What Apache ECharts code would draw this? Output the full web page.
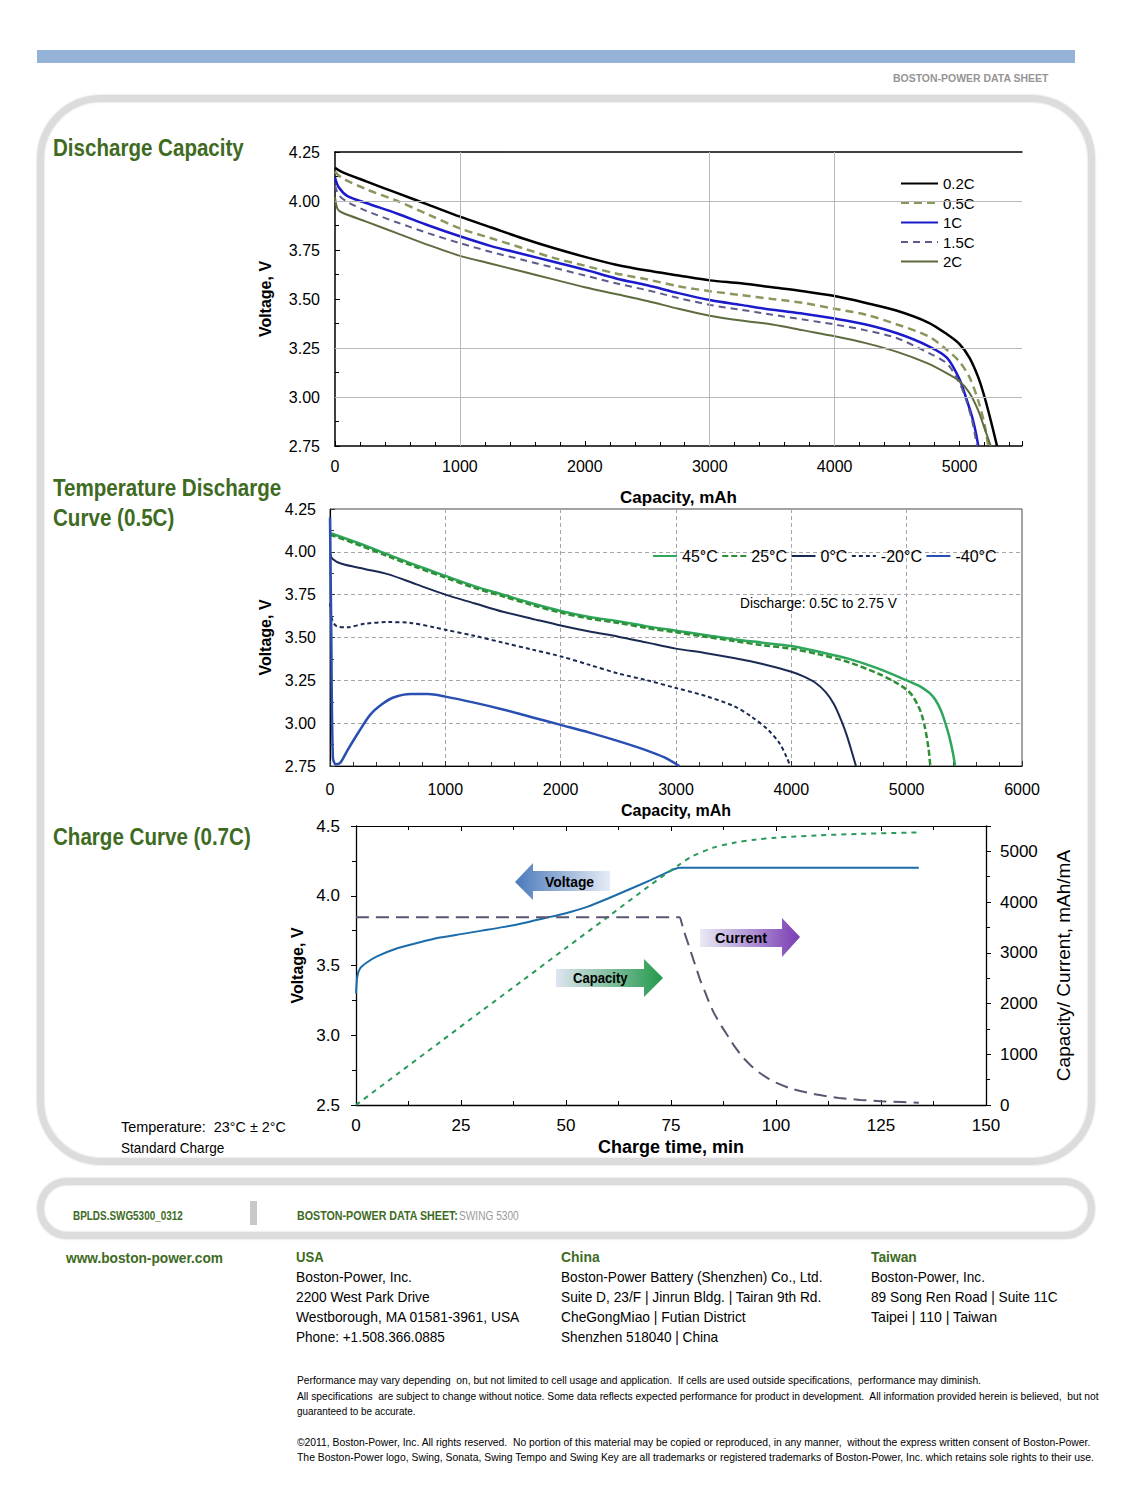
<!DOCTYPE html>
<html><head><meta charset="utf-8">
<script src="https://cdn.jsdelivr.net/npm/echarts@6/dist/echarts.min.js"></script>
<style>
html,body{margin:0;padding:0;background:#fff;overflow:hidden;}
#page{position:relative;width:1125px;height:1500px;overflow:hidden;font-family:'Liberation Sans',Arial,sans-serif;}
#chart{position:absolute;left:0;top:0;width:1125px;height:1500px;z-index:2;}
#txt{position:absolute;left:0;top:0;width:1125px;height:1500px;z-index:3;pointer-events:none;}
.bar{position:absolute;left:37px;top:50px;width:1038px;height:13px;background:#95b3d7;}
.frame{position:absolute;box-sizing:border-box;left:37px;top:95px;width:1058px;height:1070px;border:7px solid #dcdcdc;border-radius:64px;box-shadow:0 0 2px #c8c8c8, inset 0 0 2px #c8c8c8;}
.fbar{position:absolute;box-sizing:border-box;left:37px;top:1178px;width:1058px;height:61px;border:7px solid #dcdcdc;border-radius:30px;box-shadow:0 0 2px #c8c8c8, inset 0 0 2px #c8c8c8;}
.sep{position:absolute;left:250px;top:1201px;width:7px;height:24px;background:#c8c8c8;}
.t{position:absolute;white-space:pre;transform-origin:0 50%;font-family:'Liberation Sans',Arial,sans-serif;}
</style></head>
<body><div id="page">
<div class="bar"></div><div class="frame"></div><div class="fbar"></div><div class="sep"></div>
<div id="chart"></div><div id="txt"></div>
</div>
<script>
// ---------- Chart 1: Discharge capacity (capacity mAh, voltage V) ----------
const c1Names = ['0.2C','0.5C','1C','1.5C','2C'];
const c1_02 = [[0,4.17],[50,4.15],[250,4.10],[500,4.04],[750,3.98],[1000,3.92],[1250,3.865],[1500,3.81],[1750,3.76],[2000,3.715],[2250,3.675],[2500,3.645],[2750,3.62],[3000,3.595],[3250,3.58],[3500,3.56],[3750,3.54],[4000,3.515],[4250,3.48],[4500,3.44],[4750,3.38],[4900,3.32],[5000,3.27],[5080,3.2],[5150,3.1],[5200,3.0],[5250,2.88],[5300,2.75]];
const c1_05 = [[0,4.15],[50,4.12],[250,4.06],[500,4.00],[750,3.93],[1000,3.86],[1250,3.81],[1500,3.76],[1750,3.71],[2000,3.67],[2250,3.63],[2500,3.60],[2750,3.565],[3000,3.54],[3250,3.52],[3500,3.50],[3750,3.48],[4000,3.45],[4250,3.42],[4500,3.37],[4750,3.31],[4900,3.24],[5000,3.18],[5080,3.10],[5150,2.98],[5200,2.86],[5230,2.75]];
const c1_1 = [[0,4.12],[30,4.07],[100,4.025],[250,3.99],[500,3.935],[750,3.875],[1000,3.82],[1250,3.77],[1500,3.73],[1750,3.69],[2000,3.65],[2250,3.605],[2500,3.57],[2750,3.53],[3000,3.495],[3250,3.47],[3500,3.445],[3750,3.425],[4000,3.40],[4250,3.37],[4500,3.325],[4750,3.26],[4900,3.2],[5000,3.09],[5050,3.0],[5100,2.9],[5130,2.82],[5150,2.75]];
const c1_15 = [[0,4.08],[30,4.03],[100,3.995],[250,3.95],[500,3.89],[750,3.835],[1000,3.785],[1250,3.74],[1500,3.70],[1750,3.66],[2000,3.62],[2250,3.58],[2500,3.545],[2750,3.505],[3000,3.47],[3250,3.445],[3500,3.42],[3750,3.395],[4000,3.37],[4250,3.34],[4500,3.30],[4750,3.225],[4900,3.17],[5000,3.07],[5050,2.99],[5100,2.88],[5140,2.75]];
const c1_2 = [[0,4.02],[20,3.96],[60,3.94],[250,3.895],[500,3.835],[750,3.775],[1000,3.72],[1250,3.68],[1500,3.64],[1750,3.60],[2000,3.56],[2250,3.525],[2500,3.49],[2750,3.45],[3000,3.415],[3250,3.39],[3500,3.37],[3750,3.34],[4000,3.31],[4250,3.275],[4500,3.23],[4750,3.17],[4900,3.12],[5000,3.08],[5080,3.02],[5150,2.93],[5200,2.84],[5250,2.75]];
const c1GridY = [4.00, 3.25, 3.00];
const c1GridX = [1000, 3000, 4000];

// ---------- Chart 2: Temperature discharge (0.5C) ----------
const c2Names = ['45°C','25°C','0°C','-20°C','-40°C'];
const t45 = [[0,4.11],[250,4.05],[500,3.985],[750,3.92],[1000,3.86],[1250,3.80],[1500,3.75],[1750,3.70],[2000,3.655],[2250,3.62],[2500,3.595],[2750,3.565],[3000,3.54],[3250,3.515],[3500,3.49],[3750,3.47],[4000,3.45],[4250,3.415],[4500,3.375],[4750,3.32],[5000,3.25],[5100,3.22],[5150,3.2],[5200,3.175],[5250,3.135],[5300,3.07],[5340,2.99],[5370,2.92],[5400,2.83],[5420,2.75]];
const t25 = [[0,4.10],[250,4.04],[500,3.975],[750,3.91],[1000,3.85],[1250,3.79],[1500,3.74],[1750,3.69],[2000,3.645],[2250,3.61],[2500,3.585],[2750,3.555],[3000,3.53],[3250,3.505],[3500,3.48],[3750,3.455],[4000,3.435],[4250,3.40],[4500,3.355],[4750,3.29],[4900,3.24],[5000,3.195],[5050,3.16],[5100,3.1],[5130,3.05],[5160,2.97],[5190,2.85],[5205,2.75]];
const t0 = [[0,3.99],[20,3.96],[100,3.93],[300,3.90],[500,3.87],[750,3.81],[1000,3.75],[1250,3.70],[1500,3.65],[1750,3.61],[2000,3.57],[2250,3.535],[2500,3.505],[2750,3.47],[3000,3.435],[3250,3.41],[3500,3.38],[3750,3.345],[4000,3.30],[4100,3.275],[4200,3.24],[4300,3.18],[4370,3.11],[4430,3.02],[4480,2.93],[4530,2.82],[4560,2.75]];
const tm20 = [[0,3.70],[20,3.60],[60,3.565],[150,3.56],[300,3.58],[500,3.59],[700,3.585],[900,3.56],[1000,3.545],[1250,3.51],[1500,3.47],[1750,3.43],[2000,3.39],[2250,3.34],[2500,3.29],[2750,3.25],[3000,3.205],[3250,3.16],[3500,3.10],[3650,3.04],[3800,2.96],[3900,2.88],[3960,2.80],[3990,2.75]];
const tm40 = [[0,4.2],[10,3.6],[25,2.8],[50,2.76],[90,2.77],[150,2.84],[250,2.95],[350,3.05],[450,3.11],[550,3.15],[700,3.17],[850,3.17],[1000,3.155],[1250,3.12],[1500,3.08],[1750,3.035],[2000,2.99],[2250,2.945],[2500,2.895],[2750,2.84],[2900,2.80],[3030,2.75]];

// ---------- Chart 3: Charge curve (0.7C), time in min ----------
const chVoltage = [[0,3.30],[0.3,3.42],[1,3.48],[2.5,3.52],[5,3.565],[10,3.625],[15,3.665],[20,3.70],[25,3.725],[30,3.75],[35,3.775],[40,3.805],[45,3.84],[50,3.875],[55,3.92],[60,3.98],[65,4.045],[70,4.11],[75,4.18],[77,4.2],[80,4.2],[134,4.2]];
const chCapacity = [[0,0],[10,620],[20,1240],[30,1860],[40,2475],[50,3095],[60,3710],[70,4330],[77,4740],[80,4900],[85,5070],[90,5170],[95,5230],[100,5270],[110,5315],[120,5345],[134,5375]];
const chCurrent = [[0,3700],[77,3700],[77.5,3600],[78,3450],[79,3200],[80,2950],[81,2700],[82,2450],[83,2250],[84,2040],[85,1850],[86,1700],[87,1560],[88,1430],[89,1300],[90,1170],[92,950],[94,780],[96,640],[98,530],[100,440],[103,340],[106,270],[110,200],[115,140],[120,100],[125,75],[130,58],[134,45]];

const F = 'Liberation Sans';
const plain = v => String(v);
const lab = (o)=>Object.assign({color:'#000', fontSize:16, fontFamily:F, formatter:plain}, o||{});
const nm = (o)=>Object.assign({color:'#000', fontSize:16, fontWeight:'bold', fontFamily:F}, o||{});
const axLine = (w)=>({show:true, onZero:false, lineStyle:{color:'#000', width:w||1.2}});

function ln(name, data, xi, yi, color, width, type, extra){
  return Object.assign({type:'line', name, data, xAxisIndex:xi, yAxisIndex:yi, symbol:'none',
    smooth:0.3, animation:false, z:3,
    lineStyle:{color, width, type:type||'solid'}, itemStyle:{color}}, extra||{});
}
const noSym = {color:'rgba(0,0,0,0)', borderColor:'rgba(0,0,0,0)', borderWidth:0, opacity:0};

const chart = echarts.init(document.getElementById('chart'), null, {renderer:'svg', width:1125, height:1500});
const option = {
  backgroundColor:'transparent',
  animation:false,
  grid:[
    {left:335, top:152, width:687, height:294, outerBoundsMode:'none'},
    {left:330, top:509, width:692, height:257, show:true, borderColor:'#444', borderWidth:1, backgroundColor:'transparent', outerBoundsMode:'none'},
    {left:356, top:826, width:630, height:279, outerBoundsMode:'none'}
  ],
  xAxis:[
    {gridIndex:0, type:'value', min:0, max:5500, interval:1000, position:'bottom',
     axisLine:axLine(1.5), axisTick:{show:true, inside:true, length:5, lineStyle:{color:'#000'}},
     minorTick:{show:true, splitNumber:5, length:4, lineStyle:{color:'#000'}},
     axisLabel:lab({margin:12, showMaxLabel:false}), splitLine:{show:false},
     name:'Capacity, mAh', nameLocation:'middle', nameGap:43, nameTextStyle:nm({fontSize:17})},
    {gridIndex:0, type:'value', min:0, max:5500, position:'top', axisLine:axLine(1.5),
     axisTick:{show:false}, axisLabel:{show:false}, splitLine:{show:false}},
    {gridIndex:1, type:'value', min:0, max:6000, interval:1000, position:'bottom',
     axisLine:axLine(1.2), axisTick:{show:true, inside:true, length:5, lineStyle:{color:'#333'}},
     minorTick:{show:true, splitNumber:5, length:4, lineStyle:{color:'#333'}},
     axisLabel:lab({margin:15}), splitLine:{show:true, lineStyle:{color:'#a6a6a6', type:[4,3], width:1}},
     name:'Capacity, mAh', nameLocation:'middle', nameGap:36, nameTextStyle:nm({fontSize:16})},
    {gridIndex:2, type:'value', min:0, max:150, interval:25, position:'bottom',
     axisLine:axLine(1.3), axisTick:{show:true, inside:true, length:5, lineStyle:{color:'#000'}},
     minorTick:{show:true, splitNumber:2, length:4, lineStyle:{color:'#000'}},
     axisLabel:lab({margin:12, fontSize:17}), splitLine:{show:false},
     name:'Charge time, min', nameLocation:'middle', nameGap:33, nameTextStyle:nm({fontSize:18})},
    {gridIndex:2, type:'value', min:0, max:150, interval:25, position:'top', axisLine:axLine(1.2),
     axisTick:{show:true, inside:true, length:5, lineStyle:{color:'#000'}},
     minorTick:{show:true, splitNumber:2, length:4, lineStyle:{color:'#000'}},
     axisLabel:{show:false}, splitLine:{show:false}}
  ],
  yAxis:[
    {gridIndex:0, type:'value', min:2.75, max:4.25, interval:0.25, position:'left',
     axisLine:axLine(1.5), axisTick:{show:true, inside:true, length:5, lineStyle:{color:'#000'}},
     minorTick:{show:true, splitNumber:2, length:4, lineStyle:{color:'#000'}},
     axisLabel:lab({margin:15, formatter:v=>v.toFixed(2)}), splitLine:{show:false},
     name:'Voltage, V', nameLocation:'middle', nameGap:62, nameRotate:90, nameTextStyle:nm({fontSize:16})},
    {gridIndex:1, type:'value', min:2.75, max:4.25, interval:0.25, position:'left',
     axisLine:axLine(1.2), axisTick:{show:true, inside:true, length:5, lineStyle:{color:'#333'}},
     minorTick:{show:true, splitNumber:2, length:4, lineStyle:{color:'#333'}},
     axisLabel:lab({margin:14, formatter:v=>v.toFixed(2)}), splitLine:{show:true, lineStyle:{color:'#a6a6a6', type:[4,3], width:1}},
     name:'Voltage, V', nameLocation:'middle', nameGap:57, nameRotate:90, nameTextStyle:nm({fontSize:16})},
    {gridIndex:2, type:'value', min:2.5, max:4.5, interval:0.5, position:'left',
     axisLine:axLine(1.3), axisTick:{show:true, inside:false, length:5, lineStyle:{color:'#000'}},
     minorTick:{show:true, splitNumber:2, length:4, lineStyle:{color:'#000'}},
     axisLabel:lab({margin:16, fontSize:17, formatter:v=>v.toFixed(1)}), splitLine:{show:false},
     name:'Voltage, V', nameLocation:'middle', nameGap:50, nameRotate:90, nameTextStyle:nm({fontSize:16})},
    {gridIndex:2, type:'value', min:0, max:5500, interval:1000, position:'right',
     axisLine:axLine(1.3), axisTick:{show:true, inside:false, length:5, lineStyle:{color:'#000'}},
     minorTick:{show:true, splitNumber:2, length:4, lineStyle:{color:'#000'}},
     axisLabel:lab({margin:14, fontSize:17, showMaxLabel:false}), splitLine:{show:false},
     name:'Capacity/ Current, mAh/mA', nameLocation:'middle', nameGap:68, nameRotate:90,
     nameTextStyle:{color:'#000', fontSize:19, fontFamily:F}}
  ],
  legend:[
    {data:c1Names, orient:'vertical', left:900, top:176, padding:0, itemWidth:37, itemHeight:14, itemGap:4.5,
     itemStyle:noSym, textStyle:{color:'#000', fontSize:15, fontFamily:F}, selectedMode:false},
    {data:c2Names, orient:'horizontal', left:652, top:548, padding:0, itemWidth:24, itemHeight:14, itemGap:3.5,
     itemStyle:noSym, textStyle:{color:'#000', fontSize:16, fontFamily:F}, selectedMode:false}
  ],
  series:[
    {type:'line', name:'gridlines1', xAxisIndex:0, yAxisIndex:0, data:[], z:1, silent:true,
     markLine:{silent:true, symbol:['none','none'], label:{show:false}, animation:false,
       lineStyle:{color:'#b9b9b9', width:1, type:'solid'},
       data: c1GridY.map(v=>({yAxis:v})).concat(c1GridX.map(v=>({xAxis:v})))}},
    ln('0.2C', c1_02, 0, 0, '#000000', 2.5),
    ln('0.5C', c1_05, 0, 0, '#8a975c', 2.5, [8,5]),
    ln('1C',   c1_1,  0, 0, '#1b1bcc', 2.5),
    ln('1.5C', c1_15, 0, 0, '#5c5c8c', 2, [7,5]),
    ln('2C',   c1_2,  0, 0, '#5d6b3e', 2),
    ln('45°C', t45, 2, 1, '#2ea65c', 2.5),
    ln('25°C', t25, 2, 1, '#2f8f35', 2.5, [6,3]),
    ln('0°C',  t0,  2, 1, '#1b2a52', 2),
    ln('-20°C', tm20, 2, 1, '#1b2a52', 2, [4,3]),
    ln('-40°C', tm40, 2, 1, '#2a4fb2', 2.5),
    ln('Voltage', chVoltage, 3, 2, '#1b6caa', 2, 'solid', {smooth:0.2}),
    ln('Capacity', chCapacity, 3, 3, '#2a9a5c', 2, [5,5]),
    ln('Current', chCurrent, 3, 3, '#5a5570', 2, [13,7], {smooth:0.2})
  ],
  graphic:[
    {type:'polygon', z:10, shape:{points:[[515,882],[533,863],[533,871],[610,871],[610,891],[533,891],[533,900]]},
     style:{fill:{type:'linear',x:0,y:0,x2:1,y2:0,colorStops:[{offset:0,color:'#4b79bc'},{offset:1,color:'#e6ecf5'}]}}},
    {type:'polygon', z:10, shape:{points:[[700,929],[782,929],[782,918],[800,937],[782,957],[782,947],[700,947]]},
     style:{fill:{type:'linear',x:0,y:0,x2:1,y2:0,colorStops:[{offset:0,color:'#e8ebf5'},{offset:1,color:'#7a3cb4'}]}}},
    {type:'polygon', z:10, shape:{points:[[556,969],[644,969],[644,959],[663,978],[644,997],[644,987],[556,987]]},
     style:{fill:{type:'linear',x:0,y:0,x2:1,y2:0,colorStops:[{offset:0,color:'#dfe5f1'},{offset:1,color:'#22994a'}]}}}
  ]
};
chart.setOption(option);

// ---------- page text (layout) ----------
const G = '#3e6b1f';
const pageTexts = [
  ['BOSTON-POWER DATA SHEET', 893, 78, 155, 11, 1, '#959595'],
  ['Discharge Capacity', 53, 147, 191, 24, 1, G],
  ['Temperature Discharge', 53, 487, 228, 24, 1, G],
  ['Curve (0.5C)', 53, 517, 121, 24, 1, G],
  ['Charge Curve (0.7C)', 53, 836, 198, 24, 1, G],
  ['Discharge: 0.5C to 2.75 V', 740, 603, 157, 15, 0, '#000'],
  ['Voltage', 545, 882, 49, 15, 1, '#000'],
  ['Current', 715, 938, 52, 15, 1, '#000'],
  ['Capacity', 573, 978, 55, 15, 1, '#000'],
  ['Temperature:  23°C ± 2°C', 121, 1127, 165, 15, 0, '#000'],
  ['Standard Charge', 121, 1148, 103, 15, 0, '#000'],
  ['BPLDS.SWG5300_0312', 73, 1216, 110, 12, 1, G],
  ['BOSTON-POWER DATA SHEET:', 297, 1216, 161, 12, 1, G],
  ['SWING 5300', 459, 1216, 60, 12, 0, '#9a9a9a'],
  ['www.boston-power.com', 66, 1258, 157, 15, 1, G],
  ['USA', 296, 1257, 28, 15, 1, G],
  ['Boston-Power, Inc.', 296, 1277, 116, 15, 0, '#000'],
  ['2200 West Park Drive', 296, 1297, 134, 15, 0, '#000'],
  ['Westborough, MA 01581-3961, USA', 296, 1317, 223, 15, 0, '#000'],
  ['Phone: +1.508.366.0885', 296, 1337, 149, 15, 0, '#000'],
  ['China', 561, 1257, 39, 15, 1, G],
  ['Boston-Power Battery (Shenzhen) Co., Ltd.', 561, 1277, 261, 15, 0, '#000'],
  ['Suite D, 23/F | Jinrun Bldg. | Tairan 9th Rd.', 561, 1297, 260, 15, 0, '#000'],
  ['CheGongMiao | Futian District', 561, 1317, 185, 15, 0, '#000'],
  ['Shenzhen 518040 | China', 561, 1337, 157, 15, 0, '#000'],
  ['Taiwan', 871, 1257, 46, 15, 1, G],
  ['Boston-Power, Inc.', 871, 1277, 114, 15, 0, '#000'],
  ['89 Song Ren Road | Suite 11C', 871, 1297, 187, 15, 0, '#000'],
  ['Taipei | 110 | Taiwan', 871, 1317, 126, 15, 0, '#000'],
  ['Performance may vary depending  on, but not limited to cell usage and application.  If cells are used outside specifications,  performance may diminish.', 297, 1380, 684, 11, 0, '#000'],
  ['All specifications  are subject to change without notice. Some data reflects expected performance for product in development.  All information provided herein is believed,  but not', 297, 1395.5, 802, 11, 0, '#000'],
  ['guaranteed to be accurate.', 297, 1411, 118, 11, 0, '#000'],
  ['©2011, Boston-Power, Inc. All rights reserved.  No portion of this material may be copied or reproduced, in any manner,  without the express written consent of Boston-Power.', 297, 1441.5, 793, 11, 0, '#000'],
  ['The Boston-Power logo, Swing, Sonata, Swing Tempo and Swing Key are all trademarks or registered trademarks of Boston-Power, Inc. which retains sole rights to their use.', 297, 1457, 797, 11, 0, '#000']
];
const holder = document.getElementById('txt');
pageTexts.forEach(([s, x, cy, w, fs, b, col])=>{
  const d = document.createElement('div');
  d.className = 't';
  d.textContent = s;
  const lh = Math.round(fs*1.3);
  d.style.cssText += `left:${x}px;top:${cy - lh/2}px;line-height:${lh}px;height:${lh}px;font-size:${fs}px;font-weight:${b?'bold':'normal'};color:${col};`;
  holder.appendChild(d);
  const nw = d.offsetWidth;
  if (nw > 0) d.style.transform = `scaleX(${w/nw})`;
});
</script>
</body></html>
